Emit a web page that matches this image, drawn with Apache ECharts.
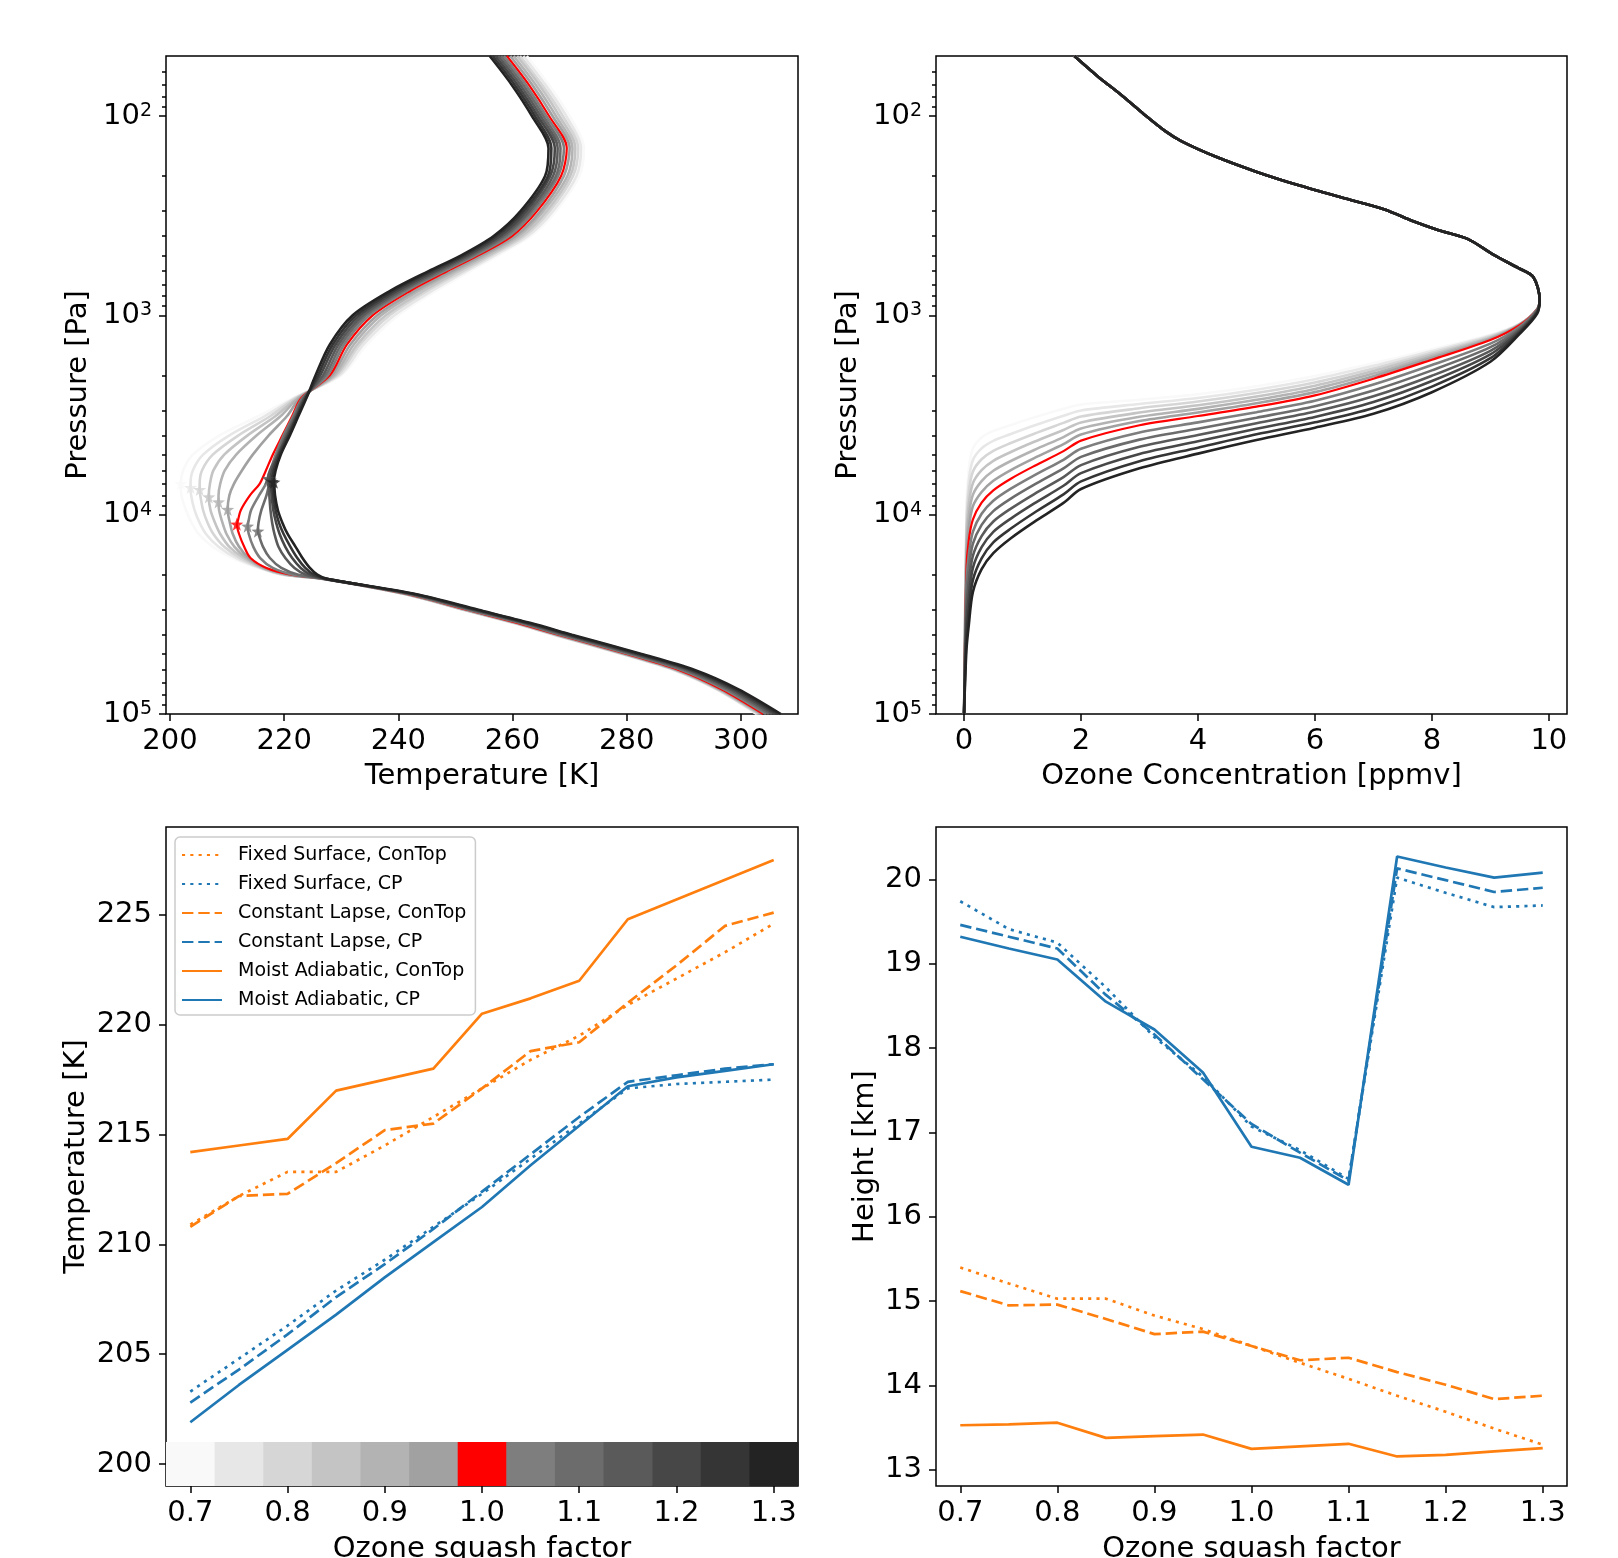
<!DOCTYPE html>
<html><head><meta charset="utf-8">
<script src="https://cdn.jsdelivr.net/npm/echarts@6/dist/echarts.min.js"></script>
<style>html,body{margin:0;padding:0;background:#fff}#c{width:1618px;height:1558px}</style>
</head><body><div id="c"></div>
<script>
// ---------------- data ----------------
const squash = [0.7,0.75,0.8,0.85,0.9,0.95,1.0,1.05,1.1,1.15,1.2,1.25,1.3];
const curveColors = ['#f9f9f9','#e7e7e7','#d6d6d6','#c4c4c4','#b3b3b3','#a1a1a1','#ff0000','#7e7e7e','#6c6c6c','#5a5a5a','#474747','#353535','#232323'];

// temperature profiles: pressure levels [Pa] and temperature [K] per squash factor
const pLevels = [50,70,100,145,200,300,400,500,600,750,1000,1400,2000,2600,3200,4000,5000,6000,7000,8000,9500,11000,12500,14500,16500,18500,20000,21000,25000,30000,35000,40000,50000,60000,75000,100000];
const tK070 = [262.5,266.4,270.0,272.5,271.7,267.6,263.2,257.5,252.6,246.7,240.0,234.5,230.0,221.5,215.5,208.7,204.0,202.3,201.9,202.0,202.8,203.8,205.0,207.5,210.9,215.4,219.5,226.7,240.9,251.2,260.1,267.0,279.0,288.0,295.5,302.7];
const tK075 = [261.9,265.8,269.4,272.0,271.2,267.1,262.7,256.9,251.9,246.0,239.3,233.9,229.7,221.8,216.6,210.4,205.8,204.0,203.6,203.7,204.3,205.2,206.3,208.5,211.6,215.8,219.8,226.75,241.0,251.3,260.2,267.2,279.2,288.2,295.7,302.9];
const tK080 = [261.3,265.2,268.8,271.5,270.6,266.5,262.1,256.3,251.3,245.2,238.5,233.3,229.3,222.0,217.6,212.0,207.5,205.6,205.2,205.3,205.8,206.6,207.6,209.5,212.3,216.0,220.0,226.8,241.1,251.5,260.4,267.3,279.3,288.3,295.8,303.1];
const tK085 = [260.8,264.7,268.2,271.0,270.1,266.0,261.6,255.8,250.6,244.5,237.8,232.8,229.0,222.3,218.5,213.6,209.5,207.6,207.0,206.8,207.1,207.9,208.8,210.4,212.9,216.2,220.2,226.85,241.2,251.6,260.5,267.5,279.5,288.5,296.0,303.3];
const tK090 = [260.2,264.1,267.6,270.5,269.6,265.4,261.0,255.2,249.9,243.7,237.0,232.2,228.7,222.5,219.4,215.2,211.6,209.6,208.8,208.5,208.6,209.2,209.9,211.3,213.4,216.4,220.5,226.9,241.3,251.7,260.7,267.7,279.7,288.7,296.2,303.5];
const tK095 = [259.6,263.5,267.0,270.0,269.0,264.9,260.5,254.6,249.3,243.0,236.3,231.6,228.3,222.8,220.5,217.3,214.5,212.6,211.2,210.4,210.1,210.5,211.0,212.1,213.8,216.6,220.8,226.95,241.4,251.9,260.8,267.8,279.8,288.8,296.3,303.7];
const tK100 = [259.0,262.9,266.4,269.5,268.5,264.3,259.9,254.0,248.6,242.2,235.5,231.0,228.0,223.0,221.4,219.7,218.0,216.8,215.7,214.0,212.4,211.8,212.1,213.0,214.1,216.9,221.2,227.0,241.5,252.0,261.0,268.0,280.0,289.0,296.5,303.9];
const tK105 = [258.5,262.4,265.9,269.0,268.0,263.8,259.4,253.5,248.0,241.6,234.9,230.5,227.6,223.2,221.6,219.9,218.5,217.6,216.8,215.6,214.2,213.7,213.8,214.6,215.8,218.0,221.6,227.1,241.75,252.3,261.4,268.4,280.4,289.5,297.0,304.4];
const tK110 = [258.0,261.9,265.4,268.4,267.6,263.3,258.8,253.0,247.5,241.0,234.3,230.0,227.2,223.3,221.8,220.1,218.8,218.0,217.4,216.9,216.0,215.5,215.5,216.3,217.5,219.5,222.5,227.2,242.0,252.7,261.7,268.8,280.9,289.9,297.5,304.9];
const tK115 = [257.5,261.4,264.9,267.9,267.1,262.9,258.3,252.5,246.9,240.5,233.8,229.5,226.8,223.5,222.0,220.4,218.9,217.5,217.25,217.4,217.6,217.9,218.3,219.0,220.2,221.8,223.8,227.25,242.25,253.0,262.1,269.2,281.3,290.4,298.0,305.45];
const tK120 = [257.0,260.9,264.4,267.4,266.6,262.4,257.8,252.0,246.4,239.9,233.2,229.0,226.3,223.6,222.2,220.6,219.0,217.9,217.65,217.8,218.1,218.6,219.2,220.2,221.4,222.9,224.6,227.3,242.5,253.3,262.5,269.6,281.7,290.9,298.5,306.0];
const tK125 = [256.5,260.4,263.9,266.8,266.2,261.9,257.2,251.5,245.8,239.3,232.6,228.5,225.9,223.8,222.3,220.8,219.2,218.2,217.95,218.1,218.5,219.1,219.9,221.1,222.3,223.7,225.2,227.4,242.75,253.7,262.8,270.0,282.2,291.3,299.0,306.5];
const tK130 = [256.0,259.9,263.4,266.3,265.7,261.4,256.7,251.0,245.3,238.7,232.0,228.0,225.5,223.9,222.5,221.0,219.4,218.5,218.25,218.4,218.9,219.7,220.6,222.0,223.2,224.5,225.8,227.5,243.0,254.0,263.2,270.4,282.6,291.8,299.5,307.0];
const tempProfiles = [tK070,tK075,tK080,tK085,tK090,tK095,tK100,tK105,tK110,tK115,tK120,tK125,tK130];
// cold-point pressure [Pa] per squash factor (temperature = Moist Adiabatic CP series)
const cpPressure = [6980,7310,7480,8150,8640,9420,11170,11430,12110,6590,6720,6820,6870];

// ozone profiles: shared upper part, then per-curve pressures at common ozone values
const o3TopConc = [1.886,2.282,2.714,3.074,3.434,3.722,4.298,5.018,5.738,6.458,7.178,7.682,8.114,8.618,9.050,9.482,9.734,9.842];
const o3TopPres = [50,63.1,79.6,97.9,118.8,134.0,159.7,191.3,223.4,256.6,293.3,337.3,373.9,414.4,496.5,579.6,642.7,831.8];
const o3Levels = [9.8,9.5,9.0,8.0,7.0,6.0,5.0,4.0,3.0,2.0,1.7,1.2,0.8,0.5,0.3,0.15,0.08,0.04,0.0];
const oP070 = [940,1100,1250,1480,1740,2015,2270,2490,2650,2800,2940,3250,3550,3800,4100,4670,5900,9300,100000];
const oP075 = [938,1103,1263,1510,1792,2092,2360,2597,2784,3000,3191,3571,3939,4264,4650,5335,6770,10490,100000];
const oP080 = [936,1107,1276,1541,1847,2171,2454,2708,2925,3215,3464,3923,4371,4784,5274,6095,7768,11830,100000];
const oP085 = [934,1110,1290,1573,1903,2254,2552,2825,3073,3445,3760,4310,4850,5368,5981,6963,8913,13340,100000];
const oP090 = [932,1113,1303,1605,1960,2340,2654,2946,3228,3692,4081,4735,5380,6023,6784,7955,10230,15050,100000];
const oP095 = [930,1117,1316,1637,2020,2428,2759,3071,3391,3962,4430,5201,5970,6758,7694,9088,11740,16970,100000];
const oP100 = [930,1120,1330,1670,2080,2520,2870,3200,3560,4250,4800,5700,6600,7550,8700,10600,13500,19000,100000];
const oP105 = [935,1140,1386,1776,2225,2682,3060,3443,3868,4670,5305,6350,7405,8510,9895,12190,15900,22180,100000];
const oP110 = [940,1160,1445,1889,2380,2855,3262,3704,4203,5130,5862,7075,8310,9600,11250,14020,18720,25890,100000];
const oP115 = [948,1180,1506,2009,2546,3038,3478,3985,4567,5640,6480,7880,9325,10820,12800,16120,22050,30220,100000];
const oP120 = [958,1200,1569,2137,2723,3234,3708,4287,4962,6190,7160,8780,10460,12200,14560,18540,25970,35270,100000];
const oP125 = [968,1220,1641,2278,2913,3441,3953,4612,5392,6810,7910,9780,11740,13760,16550,21320,30580,41170,100000];
const oP130 = [980,1240,1710,2430,3120,3660,4220,4940,5850,7430,8730,10860,13120,15600,18750,24500,36000,48000,100000];
const ozoneProfiles = [oP070,oP075,oP080,oP085,oP090,oP095,oP100,oP105,oP110,oP115,oP120,oP125,oP130];

// tropopause temperature [K]
const fsContopT = [210.9,212.2,213.3,213.3,214.5,215.8,217.1,218.4,219.5,220.9,222.1,223.3,224.6];
const fsCpT     = [203.3,204.8,206.3,207.9,209.3,210.8,212.3,213.9,215.5,217.1,217.3,217.4,217.5];
const clContopT = [210.8,212.2,212.3,213.7,215.2,215.5,217.1,218.8,219.2,221.0,222.7,224.5,225.1];
const clCpT     = [202.8,204.3,205.9,207.6,209.1,210.7,212.4,214.1,215.8,217.4,217.7,218.0,218.2];
const maContopT = [214.2,214.5,214.8,217.0,217.5,218.0,220.5,221.2,222.0,224.8,225.7,226.6,227.5];
const maCpT     = [201.9,203.6,205.2,206.8,208.5,210.1,211.7,213.6,215.4,217.2,217.6,217.9,218.2];
// tropopause height [km]
const fsContopH = [15.40,15.21,15.03,15.03,14.83,14.67,14.47,14.27,14.08,13.88,13.69,13.49,13.30];
const fsCpH     = [19.74,19.41,19.25,18.72,18.13,17.66,17.07,16.79,16.45,20.02,19.84,19.67,19.69];
const clContopH = [15.12,14.95,14.96,14.79,14.61,14.64,14.47,14.30,14.33,14.16,14.01,13.84,13.88];
const clCpH     = [19.46,19.32,19.18,18.63,18.16,17.63,17.10,16.76,16.43,20.13,19.99,19.85,19.90];
const maContopH = [13.53,13.54,13.56,13.38,13.40,13.42,13.25,13.28,13.31,13.16,13.18,13.22,13.26];
const maCpH     = [19.32,19.18,19.05,18.55,18.22,17.71,16.83,16.70,16.38,20.27,20.14,20.02,20.08];

// ticks
const tempTicks = [200,220,240,260,280,300];
const ozoneTicks = [0,2,4,6,8,10];
const squashTicks = [0.7,0.8,0.9,1.0,1.1,1.2,1.3];
const tropTTicks = [200,205,210,215,220,225];
const heightTicks = [13,14,15,16,17,18,19,20];
const logMajor = [100,1000,10000,100000];
const logMinor = [60,70,80,90,200,300,400,500,600,700,800,900,2000,3000,4000,5000,6000,7000,8000,9000,20000,30000,40000,50000,60000,70000,80000,90000];
const cbarLow = 199, cbarHigh = 201, cbarHalf = 0.025;

// ---------------- chart ----------------
const FONT = 'DejaVu Sans';
const ORANGE = '#ff7f0e', BLUE = '#1f77b4';
const DOT = [3.1, 5.2], DASH = [11.4, 4.9];
const tickLine = {color:'#000', width:1.5};
const axisFont = {fontFamily:FONT, fontSize:29, color:'#000'};

function valAxis(gi, min, max, ticks, fmt, name, gap, isY) {
  return {
    type:'value', gridIndex:gi, min, max, name, nameLocation:'middle', nameGap:gap,
    position:isY ? 'left' : 'bottom',
    nameTextStyle:Object.assign({}, axisFont),
    axisLine:{show:false, onZero:false},
    axisTick:{show:true, customValues:ticks, length:7, lineStyle:tickLine},
    axisLabel:Object.assign({customValues:ticks, formatter:fmt, margin:isY ? 14 : 13,
      padding:isY ? [9, 0, 0, 0] : 0}, axisFont),
    splitLine:{show:false}
  };
}
function logAxis(gi, name) {
  return {
    type:'log', logBase:10, gridIndex:gi, min:50, max:100000, inverse:true, position:'left',
    name, nameLocation:'middle', nameGap:73, nameTextStyle:Object.assign({}, axisFont),
    axisLine:{show:false, onZero:false},
    axisTick:{show:true, customValues:logMajor, length:7, lineStyle:tickLine},
    axisLabel:Object.assign({customValues:logMajor, margin:14,
      formatter:v => '10{s|' + Math.round(Math.log10(v)) + '}',
      rich:{s:{fontSize:19, fontFamily:FONT, color:'#000', verticalAlign:'top'}}}, axisFont),
    splitLine:{show:false}
  };
}
function minorAxis(gi) {
  return {type:'log', logBase:10, gridIndex:gi, min:50, max:100000, inverse:true, position:'left', offset:0,
    axisLine:{show:false, onZero:false}, axisTick:{show:true, customValues:logMinor, length:4, lineStyle:tickLine},
    axisLabel:{show:false}, splitLine:{show:false}};
}

const grids = [
  {left:166, top:56, width:632, height:658},
  {left:936, top:56, width:631, height:658},
  {left:166, top:827, width:632, height:659},
  {left:936, top:827, width:631, height:659}
].map(g => Object.assign(g, {show:true, borderColor:'#000', borderWidth:1.5, backgroundColor:'transparent',
  containLabel:false, outerBoundsMode:'none'}));

const fmt1 = v => v.toFixed(1);
const fmt0 = v => String(v);
const xAxes = [
  valAxis(0, 199.3, 310.0, tempTicks, fmt0, 'Temperature [K]', 48),
  valAxis(1, -0.48, 10.31, ozoneTicks, fmt0, 'Ozone Concentration [ppmv]', 48),
  valAxis(2, 0.675, 1.325, squashTicks, fmt1, 'Ozone squash factor', 49),
  valAxis(3, 0.675, 1.325, squashTicks, fmt1, 'Ozone squash factor', 49)
];
const yAxes = [
  logAxis(0, 'Pressure [Pa]'),
  logAxis(1, 'Pressure [Pa]'),
  valAxis(2, 199, 229, tropTTicks, fmt0, 'Temperature [K]', 75, true),
  valAxis(3, 12.81, 20.62, heightTicks, fmt0, 'Height [km]', 56, true),
  minorAxis(0),
  minorAxis(1)
];

const series = [];
const STAR = 'path://M0,-10L2.35,-3.24L9.51,-3.09L3.8,1.24L5.88,8.09L0,4L-5.88,8.09L-3.8,1.24L-9.51,-3.09L-2.35,-3.24Z';

// top-left: temperature profiles
tempProfiles.forEach((arr, k) => {
  const pts = pLevels.map((p, i) => [arr[i], p]);
  pts.push([maCpT[k], cpPressure[k]]);
  pts.sort((a, b) => a[1] - b[1]);
  series.push({type:'line', xAxisIndex:0, yAxisIndex:0, data:pts, symbol:'none', showSymbol:false,
    smooth:0.3,
    lineStyle:{color:curveColors[k], width:k === 6 ? 2.2 : 2.6}, silent:true, animation:false});
});
series.push({type:'scatter', xAxisIndex:0, yAxisIndex:0, symbol:STAR, symbolSize:13, z:5,
  data:squash.map((s, k) => ({value:[maCpT[k], cpPressure[k]], itemStyle:{color:curveColors[k]}})), animation:false});

// top-right: ozone profiles
ozoneProfiles.forEach((arr, k) => {
  const pts = o3TopConc.map((c, i) => [c, o3TopPres[i]]).concat(o3Levels.map((c, i) => [c, arr[i]]));
  series.push({type:'line', xAxisIndex:1, yAxisIndex:1, data:pts, symbol:'none', showSymbol:false,
    smooth:0.3,
    lineStyle:{color:curveColors[k], width:k === 6 ? 2.2 : 2.6}, silent:true, animation:false});
});

// bottom panels
const defs = [
  {name:'Fixed Surface, ConTop', color:ORANGE, type:DOT, T:fsContopT, H:fsContopH},
  {name:'Fixed Surface, CP', color:BLUE, type:DOT, T:fsCpT, H:fsCpH},
  {name:'Constant Lapse, ConTop', color:ORANGE, type:DASH, T:clContopT, H:clContopH},
  {name:'Constant Lapse, CP', color:BLUE, type:DASH, T:clCpT, H:clCpH},
  {name:'Moist Adiabatic, ConTop', color:ORANGE, type:'solid', T:maContopT, H:maContopH},
  {name:'Moist Adiabatic, CP', color:BLUE, type:'solid', T:maCpT, H:maCpH}
];
series.push({type:'custom', xAxisIndex:2, yAxisIndex:2, silent:true, z:1,
  data:squash.map((s, k) => [s, k]),
  renderItem:(params, api) => {
    const s = api.value(0), k = api.value(1);
    const a = api.coord([s - cbarHalf, cbarHigh]);
    const b = api.coord([s + cbarHalf, cbarLow]);
    return {type:'rect', shape:{x:a[0], y:a[1], width:b[0] - a[0] + 0.6, height:b[1] - a[1]},
      style:{fill:curveColors[k]}};
  }, animation:false});
defs.forEach(d => {
  const ls = {color:d.color, width:2.7, type:d.type};
  series.push({type:'line', name:d.name, xAxisIndex:2, yAxisIndex:2, data:squash.map((s, i) => [s, d.T[i]]),
    symbol:'none', showSymbol:false, lineStyle:ls, itemStyle:{color:d.color}, animation:false});
  series.push({type:'line', name:d.name, xAxisIndex:3, yAxisIndex:3, data:squash.map((s, i) => [s, d.H[i]]),
    symbol:'none', showSymbol:false, lineStyle:ls, itemStyle:{color:d.color}, animation:false});
});

const chart = echarts.init(document.getElementById('c'), null, {renderer:'canvas', width:1618, height:1558});
chart.setOption({
  backgroundColor:'#fff',
  animation:false,
  textStyle:{fontFamily:FONT},
  grid:grids,
  xAxis:xAxes,
  yAxis:yAxes,
  legend:{
    data:defs.map(d => d.name), orient:'vertical', left:175, top:837,
    itemWidth:40, itemHeight:14, itemGap:9, selectedMode:false,
    itemStyle:{opacity:0},
    padding:[8, 9, 5, 6], backgroundColor:'rgba(255,255,255,0.8)',
    borderColor:'#cccccc', borderWidth:1.5, borderRadius:5,
    textStyle:{fontFamily:FONT, fontSize:19, color:'#000', lineHeight:20, padding:[0, 0, 0, 11]}
  },
  series
});
</script>
</body></html>
